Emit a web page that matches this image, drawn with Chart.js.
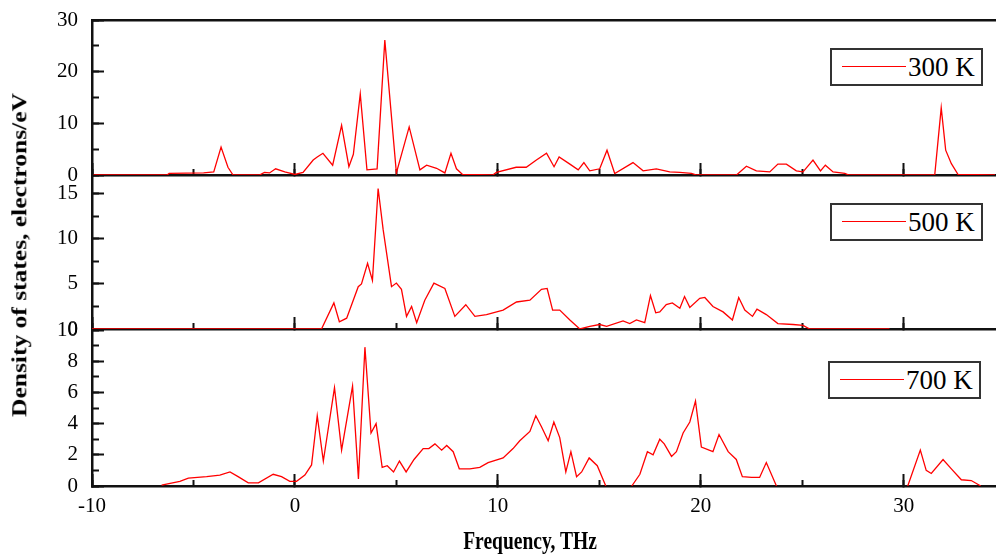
<!DOCTYPE html>
<html>
<head>
<meta charset="utf-8">
<title>Phonon density of states</title>
<script src="https://cdn.jsdelivr.net/npm/chart.js@4.4.1/dist/chart.umd.min.js"></script>
<style>
  body { margin: 0; background: #fff; }
  #wrap { position: relative; width: 997px; height: 555px; overflow: hidden; font-family: 'Liberation Serif', 'Times New Roman', serif; }
  #wrap canvas { position: absolute; left: 0; top: 0; }
  .legend { position: absolute; box-sizing: border-box; width: 153px; height: 38px; border: 2px solid #333; background: #fff; }
  .legend .swatch { position: absolute; left: 10px; top: 16px; width: 64px; border-top: 1.6px solid #ff0000; }
  .legend span { position: absolute; left: 76px; top: 0; font-size: 27px; line-height: 34px; color: #000; white-space: nowrap; }
  .title { position: absolute; font-weight: bold; color: #000; white-space: nowrap; }
  #ytitle { left: 20px; top: 255px; font-size: 25.5px; transform: translate(-50%, -50%) rotate(-90deg) scaleY(0.78); }
  #xtitle { left: 530px; top: 541px; font-size: 25px; transform: translate(-50%, -50%) scaleX(0.78); }
</style>
</head>
<body>
<div id="wrap">
  <canvas id="c300" width="997" height="555"></canvas>
  <canvas id="c500" width="997" height="555"></canvas>
  <canvas id="c700" width="997" height="555"></canvas>
  <div class="legend" style="left:830px; top:48px;"><div class="swatch"></div><span>300 K</span></div>
  <div class="legend" style="left:830px; top:203px;"><div class="swatch"></div><span>500 K</span></div>
  <div class="legend" style="left:828px; top:361px;"><div class="swatch"></div><span>700 K</span></div>
  <div class="title" id="ytitle">Density of states, electrons/eV</div>
  <div class="title" id="xtitle">Frequency, THz</div>
</div>
<script>
// frequency (THz) and DOS values
const freq300 = [-10, -6.3, -6.2, -4.5, -4.0, -3.64, -3.3, -3.05, -1.75, -1.5, -1.25, -0.95, -0.5, 0.0, 0.4, 0.9, 1.1, 1.38, 1.86, 2.3, 2.66, 2.88, 3.22, 3.55, 4.05, 4.43, 5.0, 5.63, 6.16, 6.49, 6.98, 7.39, 7.69, 7.96, 8.26, 9.75, 9.93, 10.9, 11.4, 11.9, 12.4, 12.77, 13.02, 13.55, 13.96, 14.24, 14.53, 15.02, 15.38, 15.76, 16.66, 17.16, 17.81, 18.47, 18.97, 19.54, 19.8, 21.76, 22.25, 22.74, 23.4, 23.8, 24.22, 24.71, 25.04, 25.53, 25.9, 26.14, 26.52, 27.1, 27.3, 31.53, 31.85, 32.07, 32.35, 32.68, 34.5];
const dos300 = [0, 0, 0.3, 0.4, 0.6, 5.4, 1.5, 0, 0, 0.5, 0.4, 1.2, 0.6, 0.1, 0.5, 2.9, 3.5, 4.2, 1.9, 9.6, 1.6, 4.0, 15.7, 1.0, 1.2, 26.1, 0.4, 9.3, 1.0, 1.9, 1.3, 0.4, 4.2, 1.2, 0.1, 0, 0.5, 1.5, 1.5, 2.9, 4.2, 1.6, 3.5, 2.1, 1.0, 2.4, 0.8, 1.2, 4.8, 0.3, 2.4, 0.8, 1.2, 0.6, 0.5, 0.3, 0, 0, 1.7, 0.8, 0.6, 2.1, 2.1, 0.8, 0.6, 2.9, 0.8, 1.9, 0.6, 0.3, 0, 0, 13.0, 4.8, 2.2, 0.1, 0];

const freq500 = [-10, 1.31, 1.92, 2.19, 2.55, 3.12, 3.28, 3.58, 3.82, 4.1, 4.35, 4.76, 5.0, 5.25, 5.5, 5.75, 6.0, 6.4, 6.85, 7.39, 7.88, 8.42, 8.87, 9.44, 10.26, 10.92, 11.58, 12.15, 12.43, 12.7, 13.05, 13.55, 14.04, 14.53, 15.02, 15.36, 16.17, 16.5, 16.83, 17.24, 17.52, 17.78, 17.98, 18.3, 18.6, 18.97, 19.2, 19.46, 19.95, 20.2, 20.6, 21.1, 21.56, 21.87, 22.17, 22.55, 22.77, 23.23, 23.8, 24.55, 25.04, 25.37, 29.3];
const dos500 = [0, 0, 2.9, 0.8, 1.2, 4.7, 5.0, 7.3, 5.4, 15.6, 11.0, 4.7, 5.1, 4.4, 1.4, 2.5, 0.7, 3.2, 5.1, 4.5, 1.4, 2.7, 1.4, 1.6, 2.1, 3.0, 3.2, 4.4, 4.5, 2.1, 2.1, 1.0, 0, 0.3, 0.5, 0.3, 0.9, 0.6, 1.0, 0.7, 3.7, 1.8, 1.9, 2.7, 2.9, 2.3, 3.6, 2.4, 3.4, 3.5, 2.5, 1.9, 1.0, 3.5, 2.1, 1.4, 2.2, 1.6, 0.6, 0.5, 0.4, 0, 0];

const freq700 = [-6.57, -5.67, -5.25, -4.35, -3.7, -3.2, -2.8, -2.3, -1.8, -1.07, -0.66, -0.25, 0.08, 0.49, 0.82, 1.1, 1.4, 1.95, 2.3, 2.84, 3.13, 3.45, 3.75, 4.0, 4.3, 4.55, 4.86, 5.15, 5.48, 5.87, 6.32, 6.6, 6.9, 7.23, 7.48, 7.8, 8.1, 8.62, 9.11, 9.52, 10.26, 10.75, 11.08, 11.58, 11.87, 12.15, 12.48, 12.76, 13.05, 13.35, 13.6, 13.88, 14.13, 14.5, 14.9, 15.32, 16.0, 16.6, 17.0, 17.37, 17.65, 17.98, 18.2, 18.56, 18.8, 19.13, 19.46, 19.74, 20.03, 20.6, 20.9, 21.35, 21.75, 22.05, 22.5, 22.9, 23.23, 23.73, 27.0, 30.2, 30.82, 31.11, 31.36, 31.94, 32.35, 32.84, 33.33, 33.8];
const dos700 = [0.05, 0.3, 0.5, 0.6, 0.7, 0.9, 0.6, 0.2, 0.2, 0.75, 0.6, 0.3, 0.3, 0.7, 1.35, 4.5, 1.6, 6.3, 2.3, 6.4, 0.45, 8.9, 3.4, 4.0, 1.2, 1.3, 0.9, 1.6, 0.9, 1.7, 2.4, 2.4, 2.7, 2.3, 2.6, 2.2, 1.1, 1.1, 1.2, 1.5, 1.8, 2.4, 2.9, 3.5, 4.5, 3.8, 2.9, 4.1, 3.1, 0.9, 2.2, 0.6, 0.9, 1.8, 1.3, 0, null, 0, 0.75, 2.2, 2.0, 3.0, 2.7, 1.9, 2.2, 3.4, 4.1, 5.45, 2.5, 2.2, 3.3, 2.2, 1.7, 0.6, 0.55, 0.55, 1.5, 0, null, 0, 2.3, 1.0, 0.8, 1.7, 1.1, 0.4, 0.35, 0];

const xMin = -10;
const xMax = 34.5;

const axisColor = '#111';
const tickFont = { family: "'Liberation Serif', 'Times New Roman', serif", size: 21 };

function noPad(s) {
  s.paddingTop = 0;
  s.paddingBottom = 0;
  s.paddingLeft = 0;
  s.paddingRight = 0;
}

function buildScales(yMax, yStep, yMinorStep, xAxisHeight, topBorder) {
  const scales = {
    x: {
      type: 'linear',
      position: 'bottom',
      weight: 0,
      min: xMin,
      max: xMax,
      afterFit: s => { s.height = xAxisHeight; noPad(s); },
      border: { display: true, color: axisColor, width: 2.5 },
      grid: { drawOnChartArea: false, drawTicks: true, tickLength: -12, tickWidth: 2, tickColor: axisColor },
      ticks: { display: xAxisHeight > 0, stepSize: 10, includeBounds: false, padding: 20, color: '#000', font: tickFont, maxRotation: 0, autoSkip: false }
    },
    xMinor: {
      type: 'linear',
      position: 'bottom',
      weight: -1,
      min: xMin,
      max: xMax,
      afterFit: s => { s.height = 0; noPad(s); },
      border: { display: false },
      grid: { drawOnChartArea: false, drawTicks: true, tickLength: -6, tickWidth: 2, tickColor: axisColor },
      ticks: { display: false, stepSize: 5, includeBounds: false }
    },
    y: {
      type: 'linear',
      position: 'left',
      weight: 1,
      min: 0,
      max: yMax,
      afterFit: s => { s.width = 92; noPad(s); },
      border: { display: true, color: axisColor, width: 2.5 },
      grid: { drawOnChartArea: false, drawTicks: true, tickLength: -12, tickWidth: 2, tickColor: axisColor },
      ticks: { stepSize: yStep, includeBounds: false, padding: 26, color: '#000', font: tickFont }
    },
    yMinor: {
      type: 'linear',
      position: 'left',
      weight: 0,
      min: 0,
      max: yMax,
      afterFit: s => { s.width = 0; noPad(s); },
      border: { display: false },
      grid: { drawOnChartArea: false, drawTicks: true, tickLength: -7, tickWidth: 2, tickColor: axisColor },
      ticks: { display: false, stepSize: yMinorStep, includeBounds: false }
    }
  };
  if (topBorder) {
    scales.xTop = {
      type: 'linear',
      position: 'top',
      min: xMin,
      max: xMax,
      afterFit: s => { s.height = 0; noPad(s); },
      border: { display: true, color: axisColor, width: 2.5 },
      grid: { display: false, drawOnChartArea: false, drawTicks: false },
      ticks: { display: false }
    };
  }
  return scales;
}

function makePanel(id, label, xs, ys, padding, yMax, yStep, yMinorStep, xAxisHeight, topBorder) {
  const points = xs.map((x, i) => ({ x: x, y: ys[i] }));
  return new Chart(document.getElementById(id), {
    type: 'line',
    data: {
      datasets: [{
        label: label,
        data: points,
        xAxisID: 'x',
        yAxisID: 'y',
        borderColor: '#ff0000',
        borderWidth: 1.3,
        pointRadius: 0,
        tension: 0,
        spanGaps: false,
        fill: false
      }]
    },
    options: {
      responsive: false,
      animation: false,
      layout: { padding: padding },
      scales: buildScales(yMax, yStep, yMinorStep, xAxisHeight, topBorder),
      plugins: {
        legend: { display: false },
        tooltip: { enabled: false }
      }
    }
  });
}

makePanel('c300', '300 K', freq300, dos300, { top: 20, bottom: 380, left: 0, right: 2 }, 30, 10, 5, 0, true);
makePanel('c500', '500 K', freq500, dos500, { top: 175, bottom: 226, left: 0, right: 2 }, 17.1, 5, 2.5, 0, false);
makePanel('c700', '700 K', freq700, dos700, { top: 330, bottom: 19, left: 0, right: 2 }, 10, 2, 1, 50, false);
</script>
</body>
</html>
